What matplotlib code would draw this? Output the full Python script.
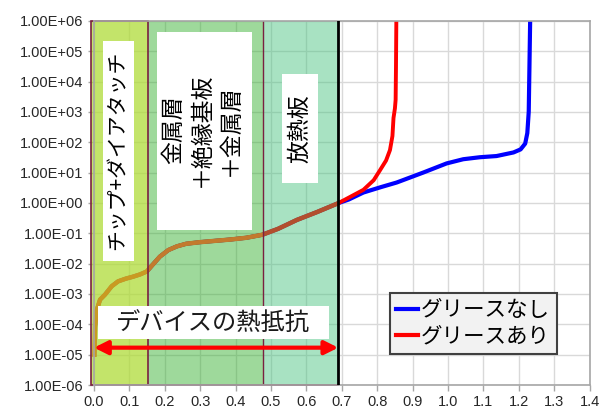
"""
Cumulative thermal resistance structure function (with / without grease).
"""

import matplotlib
matplotlib.use("Agg")

import matplotlib.pyplot as plt
from matplotlib.lines import Line2D
from matplotlib.patches import Rectangle

JP = ["Noto Sans CJK JP", "DejaVu Sans"]
plt.rcParams["font.family"] = ["Liberation Sans", "Noto Sans CJK JP"]

# ---------------------------------------------------------------------------
# Data
# ---------------------------------------------------------------------------

# shared part of both curves (device region)
common_x = [0.001, 0.003, 0.008, 0.017, 0.031, 0.050, 0.068, 0.09, 0.11, 0.13,
            0.149, 0.165, 0.186, 0.21, 0.234, 0.26, 0.30, 0.34, 0.384, 0.43,
            0.475, 0.52, 0.573, 0.63, 0.69]
common_z = [1.0e-5, 8.5e-5, 3.0e-4, 6.5e-4, 9.5e-4, 1.8e-3, 2.6e-3, 3.2e-3,
            3.7e-3, 4.4e-3, 5.5e-3, 9.0e-3, 1.7e-2, 2.8e-2, 3.7e-2, 4.5e-2,
            5.1e-2, 5.6e-2, 6.2e-2, 7.1e-2, 8.9e-2, 1.4e-1, 2.75e-1, 5.0e-1,
            9.8e-1]

# without grease
no_grease_x = [0.72, 0.761, 0.81, 0.855, 0.93, 0.996, 1.043, 1.09, 1.137,
               1.185, 1.205, 1.218, 1.224, 1.228, 1.230, 1.232]
no_grease_z = [1.3e0, 2.2e0, 3.3e0, 4.7e0, 1.0e1, 2.0e1, 2.75e1, 3.2e1,
               3.5e1, 4.6e1, 5.8e1, 9.0e1, 2.0e2, 1.0e3, 3.0e4, 1.0e6]

# with grease
grease_x = [0.72, 0.761, 0.79, 0.808, 0.825, 0.836, 0.843, 0.846, 0.850,
            0.852, 0.853, 0.854]
grease_z = [1.5e0, 2.7e0, 5.6e0, 1.2e1, 2.5e1, 5.5e1, 1.6e2, 6.3e2, 1.3e3,
            2.5e3, 3.0e4, 1.0e6]

# region boundaries (x, thermal resistance)
region_edges = [-0.008, 0.152, 0.476, 0.69]
region_labels = ["チップ+ダイアタッチ", "金属層\n＋絶縁基板\n＋金属層", "放熱板"]

legend_labels = ["グリースなし", "グリースあり"]
y_ticks = [10.0 ** k for k in range(-6, 7)]
x_ticks = [i / 10 for i in range(15)]


def main():
    fig = plt.figure(figsize=(6.0, 4.12), dpi=100)
    ax = fig.add_axes([0.1567, 0.0655, 0.826, 0.884])
    ax.set_yscale("log")
    ax.set_xlim(0, 1.4)
    ax.set_ylim(1e-6, 1e6)

    # --- grid / axes style ---------------------------------------------------
    ax.set_yticks(y_ticks)
    ax.set_yticklabels([f"{v:.2E}" for v in y_ticks])
    ax.yaxis.set_minor_locator(matplotlib.ticker.NullLocator())
    ax.set_xticks(x_ticks)
    ax.set_xticklabels([f"{v:.1f}" for v in x_ticks])
    ax.tick_params(labelsize=10.5, colors="#a6a6a6", labelcolor="#262626",
                   length=4, width=1)
    ax.grid(True, color="#d9d9d9", linewidth=1, zorder=0)
    ax.set_axisbelow(True)
    for sp in ax.spines.values():
        sp.set_color("#a6a6a6")
        sp.set_linewidth(1.2)
    ax.plot([0.69, 1.4], [1, 1], color="white", linewidth=2, zorder=0.5)

    # --- curves --------------------------------------------------------------
    ax.plot(common_x + no_grease_x, common_z + no_grease_z,
            color="blue", linewidth=3, zorder=1)
    ax.plot(common_x + grease_x, common_z + grease_z,
            color="red", linewidth=2.8, zorder=1.1)

    # --- translucent region overlays -----------------------------------------
    fills = [("#afdb38", 0.75), ("#35b12f", 0.48), ("#4ac380", 0.48)]
    # curve tint seen through each overlay
    tints = ["#c99a22", "#c27a2e", "#b24e2e"]
    for i, (fc, a) in enumerate(fills):
        x0, x1 = region_edges[i], region_edges[i + 1]
        rect = Rectangle((x0, 1e-6), x1 - x0, 1e6 - 1e-6, facecolor=fc,
                         alpha=a, edgecolor="none", zorder=2, clip_on=False)
        ax.add_patch(rect)
        (tinted,) = ax.plot(common_x, common_z, color=tints[i],
                            linewidth=3.2, zorder=2.2)
        tinted.set_clip_path(rect)

    maroon = "#7a2040"
    ax.add_patch(Rectangle((region_edges[0], 1e-6),
                           region_edges[1] - region_edges[0], 1e6 - 1e-6,
                           facecolor="none", edgecolor=maroon, linewidth=1.2,
                           zorder=2.5, clip_on=False))
    ax.plot([region_edges[2]] * 2, [1e-6, 1e6], color=maroon, linewidth=1,
            zorder=2.5)
    ax.plot([region_edges[1], region_edges[3]], [1e-6, 1e-6], color=maroon,
            linewidth=1.2, zorder=2.5, clip_on=False)
    ax.plot([region_edges[3]] * 2, [1e-6, 1e6], color="black", linewidth=2,
            zorder=3)

    # --- label boxes ---------------------------------------------------------
    boxes = [(0.0246, 0.1138, 10 ** -1.90, 10 ** 5.33),
             (0.177, 0.4455, 10 ** -0.885, 10 ** 5.63),
             (0.530, 0.634, 10 ** 0.67, 10 ** 4.25)]
    centers = [(0.0678, 10 ** 1.74, 15), (0.304, 10 ** 2.40, 16.5),
               (0.582, 10 ** 2.44, 16.5)]
    for (x0, x1, y0, y1), (cx, cy, fs), label in zip(boxes, centers,
                                                     region_labels):
        ax.add_patch(Rectangle((x0, y0), x1 - x0, y1 - y0, facecolor="white",
                               edgecolor="none", zorder=4))
        ax.text(cx, cy, label, rotation=90, ha="center", va="center",
                multialignment="center", linespacing=1.3, fontsize=fs,
                family=JP, color="black", zorder=5)

    # device thermal resistance box + arrow
    ax.add_patch(Rectangle((0.011, 10 ** -4.50), 0.653,
                           10 ** -3.385 - 10 ** -4.50, facecolor="white",
                           edgecolor="none", zorder=4))
    ax.text(0.336, 10 ** -3.94, "デバイスの熱抵抗", ha="center", va="center",
            fontsize=17.5, family=JP, color="#1a1a1a", zorder=5)
    ax.annotate("", xy=(0.0, 1.7e-5), xytext=(0.69, 1.7e-5),
                arrowprops=dict(arrowstyle="<|-|>", color="red", lw=3,
                                mutation_scale=20, shrinkA=0, shrinkB=0),
                zorder=5)

    # --- legend --------------------------------------------------------------
    handles = [Line2D([], [], color="blue", linewidth=3),
               Line2D([], [], color="red", linewidth=3)]
    leg = ax.legend(handles, legend_labels, loc="lower left",
                    bbox_to_anchor=(0.597, 0.085), prop={"family": JP,
                                                         "size": 15.5},
                    handlelength=1.0, handletextpad=0.15, borderpad=0.3,
                    labelspacing=0.2, fancybox=False, framealpha=1,
                    borderaxespad=0)
    leg.get_frame().set_facecolor("#f2f2f2")
    leg.get_frame().set_edgecolor("#404040")
    leg.get_frame().set_linewidth(1.5)
    leg.set_zorder(6)

    fig.savefig("out.png", dpi=100)
    plt.close(fig)


if __name__ == "__main__":
    main()
